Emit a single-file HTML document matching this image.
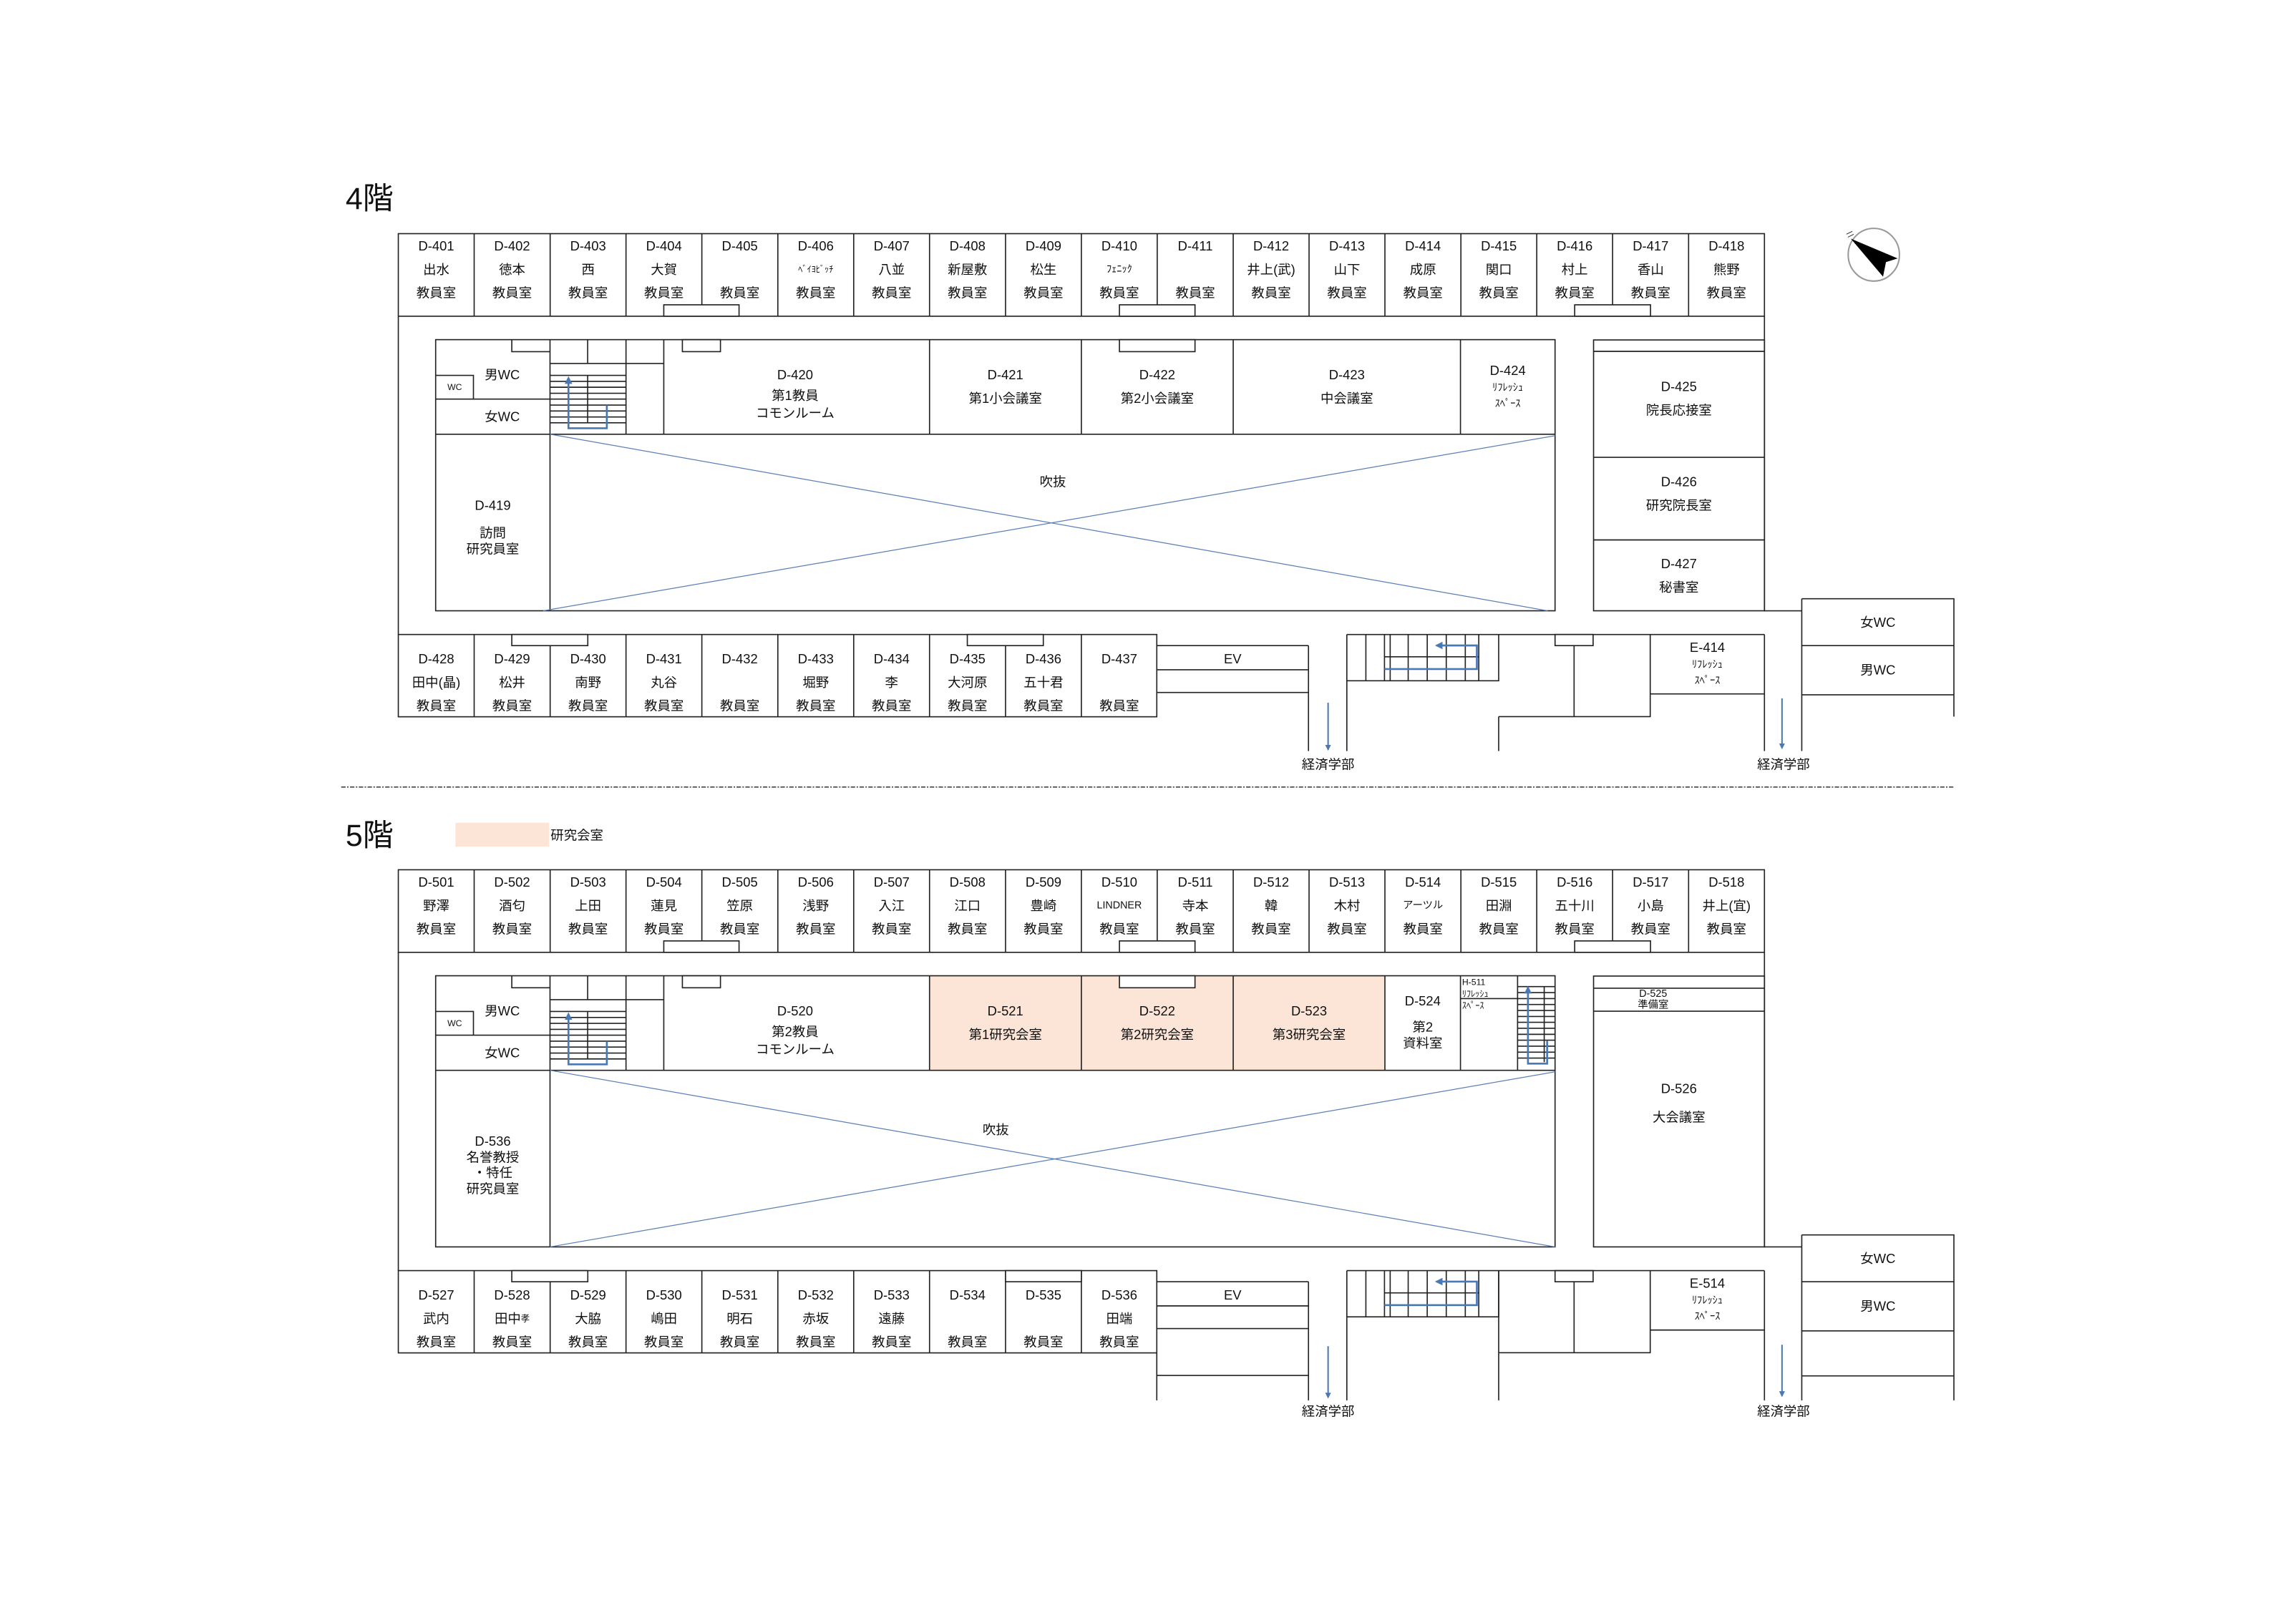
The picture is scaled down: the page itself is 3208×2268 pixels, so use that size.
<!DOCTYPE html>
<html><head><meta charset="utf-8">
<style>
html,body{margin:0;padding:0;background:#fff;}
svg{display:block;}
text{font-family:"Liberation Sans","Noto Sans CJK JP",sans-serif;font-size:9px;fill:#111;text-anchor:middle;dominant-baseline:central;}
.s{font-size:7px;}
.xs{font-size:6px;}
.t{font-size:21px;text-anchor:start;}
</style></head>
<body>
<svg width="3208" height="2268" viewBox="0 0 1568 1108.6" xmlns="http://www.w3.org/2000/svg">
<defs>
<marker id="ah" viewBox="0 0 10 10" refX="8" refY="5" markerWidth="4" markerHeight="4" orient="auto"><path d="M0,0 L10,5 L0,10 z" fill="#4a78b5"/></marker>
</defs>
<rect width="1568" height="1108.6" fill="#fff"/>

<!-- ================= 4F ================= -->
<text class="t" x="236" y="136">4階</text>
<g id="f4" fill="none" stroke="#222" stroke-width="0.8">
<!-- top row -->
<rect x="272" y="159.6" width="933" height="56.4"/>
<path d="M323.8,159.6V216M375.7,159.6V216M427.5,159.6V216M479.3,159.6V216M531.2,159.6V216M583,159.6V216M634.8,159.6V216M686.7,159.6V216M738.5,159.6V216M790.3,159.6V216M842.2,159.6V216M894,159.6V216M945.8,159.6V216M997.7,159.6V216M1049.5,159.6V216M1101.3,159.6V216M1153.2,159.6V216"/>
<rect x="453.3" y="208.2" width="51.4" height="7.8" fill="#fff"/>
<rect x="764.5" y="208.2" width="51.6" height="7.8" fill="#fff"/>
<rect x="1075.4" y="208.2" width="51.8" height="7.8" fill="#fff"/>
<!-- outer walls -->
<path d="M272,216V433.4M1205,216V417.2H1230.5"/>
<!-- inner block -->
<rect x="297.5" y="232" width="764.5" height="185.2"/>
<path d="M297.5,296.6H1062M375.6,232V417.2M349.5,232V240.2H375.6V248.3H453.3M401.3,232V248.3M427.5,232V296.6M453.3,232V296.6M634.8,232V296.6M738.5,232V296.6M842.2,232V296.6M997.4,232V296.6M297.5,272.6H375.6M297.5,256.4H323.3V272.6"/>
<rect x="466" y="232" width="26" height="8.2"/>
<rect x="764.5" y="232" width="51.6" height="8.2"/>
<!-- stairs top-left -->
<path d="M375.6,256.4H427.5M375.6,260.5H427.5M375.6,264.5H427.5M375.6,268.6H427.5M375.6,272.6H427.5M375.6,276.7H427.5M375.6,280.7H427.5M375.6,284.8H427.5M375.6,288.8H427.5M401.3,256.4V288.8"/>
<!-- right block -->
<rect x="1088.3" y="232.2" width="116.7" height="185"/>
<path d="M1088.3,240H1205M1088.3,312.4H1205M1088.3,368.8H1205"/>
<!-- bottom row -->
<rect x="272" y="433.4" width="518" height="56.2"/>
<path d="M323.8,433.4V489.6M375.7,433.4V489.6M427.5,433.4V489.6M479.3,433.4V489.6M531.2,433.4V489.6M583,433.4V489.6M634.8,433.4V489.6M686.7,433.4V489.6M738.5,433.4V489.6"/>
<rect x="349.5" y="433.4" width="51.9" height="7.6" fill="#fff"/>
<rect x="660.6" y="433.4" width="51.9" height="7.6" fill="#fff"/>
<!-- EV etc -->
<path d="M790,441H893.6M790,457.5H893.6M790,473H893.6M893.6,441V513M919.8,433.4V513M919.8,433.4H1205M1205,433.4V513"/>
<!-- stair bottom -->
<path d="M919.8,465H1023.5V433.4M932.8,433.4V465M945.5,433.4V465M949.4,433.4V465M961.7,433.4V465M974.7,433.4V465M987.7,433.4V465M1000.7,433.4V465M1009.9,433.4V465M945.5,448.6H1009.9"/>
<path d="M1023.5,489.5V513M1023.5,489.5H1127V433.4M1075,441V489.5M1127,474H1205"/>
<rect x="1062" y="433.4" width="26" height="7.6"/>
<!-- WC right -->
<path d="M1230.5,409H1334.4V489.5M1230.5,409V513M1230.5,441H1334.4M1230.5,474.6H1334.4"/>
<!-- diagonals -->
<path d="M375.6,296.6L1057,417.2M371,417.2L1062,297.6" stroke="#5a7fb8" stroke-width="0.6"/>
<!-- blue arrows -->
<path d="M414.4,276.7V292.5H388.2V258" stroke="#4a78b5" stroke-width="1.3" marker-end="url(#ah)"/>
<path d="M945.5,457H1008.6V440.9H981" stroke="#4a78b5" stroke-width="1.3" marker-end="url(#ah)"/>
<path d="M907,480V512" stroke="#4a78b5" stroke-width="1" marker-end="url(#ah)"/>
<path d="M1217,477V511" stroke="#4a78b5" stroke-width="1" marker-end="url(#ah)"/>
</g>
<!-- compass -->
<ellipse cx="1279.7" cy="174" rx="17.5" ry="18" fill="#fff" stroke="#999" stroke-width="1"/>
<polygon points="1264,163 1296,176.5 1288,179 1286,189" fill="#000"/>
<path d="M1261,160 l4,-2 m-3,4 l4,-2" stroke="#333" stroke-width="0.5"/>

<!-- 4F texts -->
<g>
<text x="297.9" y="168">D-401</text><text x="297.9" y="184">出水</text><text x="297.9" y="200">教員室</text>
<text x="349.7" y="168">D-402</text><text x="349.7" y="184">徳本</text><text x="349.7" y="200">教員室</text>
<text x="401.6" y="168">D-403</text><text x="401.6" y="184">西</text><text x="401.6" y="200">教員室</text>
<text x="453.4" y="168">D-404</text><text x="453.4" y="184">大賀</text><text x="453.4" y="200">教員室</text>
<text x="505.2" y="168">D-405</text><text x="505.2" y="200">教員室</text>
<text x="557.1" y="168">D-406</text><text class="xs" x="557.1" y="184">ﾍﾞｲﾖﾋﾞｯﾁ</text><text x="557.1" y="200">教員室</text>
<text x="608.9" y="168">D-407</text><text x="608.9" y="184">八並</text><text x="608.9" y="200">教員室</text>
<text x="660.7" y="168">D-408</text><text x="660.7" y="184">新屋敷</text><text x="660.7" y="200">教員室</text>
<text x="712.6" y="168">D-409</text><text x="712.6" y="184">松生</text><text x="712.6" y="200">教員室</text>
<text x="764.4" y="168">D-410</text><text class="s" x="764.4" y="184">ﾌｪﾆｯｸ</text><text x="764.4" y="200">教員室</text>
<text x="816.3" y="168">D-411</text><text x="816.3" y="200">教員室</text>
<text x="868.1" y="168">D-412</text><text x="868.1" y="184">井上(武)</text><text x="868.1" y="200">教員室</text>
<text x="919.9" y="168">D-413</text><text x="919.9" y="184">山下</text><text x="919.9" y="200">教員室</text>
<text x="971.8" y="168">D-414</text><text x="971.8" y="184">成原</text><text x="971.8" y="200">教員室</text>
<text x="1023.6" y="168">D-415</text><text x="1023.6" y="184">関口</text><text x="1023.6" y="200">教員室</text>
<text x="1075.4" y="168">D-416</text><text x="1075.4" y="184">村上</text><text x="1075.4" y="200">教員室</text>
<text x="1127.3" y="168">D-417</text><text x="1127.3" y="184">香山</text><text x="1127.3" y="200">教員室</text>
<text x="1179.1" y="168">D-418</text><text x="1179.1" y="184">熊野</text><text x="1179.1" y="200">教員室</text>

<text x="343" y="256">男WC</text><text class="xs" x="310.5" y="264.5">WC</text><text x="343" y="284.5">女WC</text>
<text x="543" y="256">D-420</text><text x="543" y="270">第1教員</text><text x="543" y="282">コモンルーム</text>
<text x="686.6" y="256">D-421</text><text x="686.6" y="272">第1小会議室</text>
<text x="790.3" y="256">D-422</text><text x="790.3" y="272">第2小会議室</text>
<text x="919.8" y="256">D-423</text><text x="919.8" y="272">中会議室</text>
<text x="1029.7" y="253">D-424</text><text class="s" x="1029.7" y="265">ﾘﾌﾚｯｼｭ</text><text class="s" x="1029.7" y="276">ｽﾍﾟｰｽ</text>
<text x="336.5" y="345">D-419</text><text x="336.5" y="364">訪問</text><text x="336.5" y="375">研究員室</text>
<text x="719" y="329">吹抜</text>
<text x="1146.6" y="264">D-425</text><text x="1146.6" y="280">院長応接室</text>
<text x="1146.6" y="329">D-426</text><text x="1146.6" y="345">研究院長室</text>
<text x="1146.6" y="385">D-427</text><text x="1146.6" y="401">秘書室</text>

<text x="297.9" y="450">D-428</text><text x="297.9" y="466">田中(晶)</text><text x="297.9" y="482">教員室</text>
<text x="349.7" y="450">D-429</text><text x="349.7" y="466">松井</text><text x="349.7" y="482">教員室</text>
<text x="401.6" y="450">D-430</text><text x="401.6" y="466">南野</text><text x="401.6" y="482">教員室</text>
<text x="453.4" y="450">D-431</text><text x="453.4" y="466">丸谷</text><text x="453.4" y="482">教員室</text>
<text x="505.2" y="450">D-432</text><text x="505.2" y="482">教員室</text>
<text x="557.1" y="450">D-433</text><text x="557.1" y="466">堀野</text><text x="557.1" y="482">教員室</text>
<text x="608.9" y="450">D-434</text><text x="608.9" y="466">李</text><text x="608.9" y="482">教員室</text>
<text x="660.7" y="450">D-435</text><text x="660.7" y="466">大河原</text><text x="660.7" y="482">教員室</text>
<text x="712.6" y="450">D-436</text><text x="712.6" y="466">五十君</text><text x="712.6" y="482">教員室</text>
<text x="764.4" y="450">D-437</text><text x="764.4" y="482">教員室</text>
<text x="841.8" y="450">EV</text>
<text x="1166" y="442">E-414</text><text class="s" x="1166" y="454">ﾘﾌﾚｯｼｭ</text><text class="s" x="1166" y="465">ｽﾍﾟｰｽ</text>
<text x="1282.5" y="425">女WC</text><text x="1282.5" y="457.5">男WC</text>
<text x="907" y="522">経済学部</text><text x="1218" y="522">経済学部</text>
</g>

<!-- separator -->
<line x1="233" y1="537.6" x2="1335" y2="537.6" stroke="#444" stroke-width="0.8" stroke-dasharray="3,1,1,1"/>

<!-- ================= 5F ================= -->
<text class="t" x="236" y="571">5階</text>
<rect x="311" y="562" width="64" height="16.3" fill="#fce4d6"/>
<text x="376" y="570.5" style="text-anchor:start">研究会室</text>

<g transform="translate(0,434.5)">
<rect x="634.8" y="232" width="310.9" height="64.6" fill="#fce4d6"/>
<g fill="none" stroke="#222" stroke-width="0.8">
<rect x="272" y="159.6" width="933" height="56.4"/>
<path d="M323.8,159.6V216M375.7,159.6V216M427.5,159.6V216M479.3,159.6V216M531.2,159.6V216M583,159.6V216M634.8,159.6V216M686.7,159.6V216M738.5,159.6V216M790.3,159.6V216M842.2,159.6V216M894,159.6V216M945.8,159.6V216M997.7,159.6V216M1049.5,159.6V216M1101.3,159.6V216M1153.2,159.6V216"/>
<rect x="453.3" y="208.2" width="51.4" height="7.8" fill="#fff"/>
<rect x="764.5" y="208.2" width="51.6" height="7.8" fill="#fff"/>
<rect x="1075.4" y="208.2" width="51.8" height="7.8" fill="#fff"/>
<path d="M272,216V433.4M1205,216V417.2H1230.5"/>
<rect x="297.5" y="232" width="764.5" height="185.2"/>
<path d="M297.5,296.6H1062M375.6,232V417.2M349.5,232V240.2H375.6V248.3H453.3M401.3,232V248.3M427.5,232V296.6M453.3,232V296.6M634.8,232V296.6M738.5,232V296.6M842.2,232V296.6M945.8,232V296.6M997.4,232V296.6M1036.4,232V296.6M997.4,247.6H1036.4M297.5,272.6H375.6M297.5,256.4H323.3V272.6"/>
<rect x="466" y="232" width="26" height="8.2" fill="#fff"/>
<rect x="764.5" y="232" width="51.6" height="8.2" fill="#fff"/>
<path d="M375.6,256.4H427.5M375.6,260.5H427.5M375.6,264.5H427.5M375.6,268.6H427.5M375.6,272.6H427.5M375.6,276.7H427.5M375.6,280.7H427.5M375.6,284.8H427.5M375.6,288.8H427.5M401.3,256.4V288.8"/>
<path d="M1036.4,239.4H1062M1036.4,243.5H1062M1036.4,247.6H1062M1036.4,251.6H1062M1036.4,255.7H1062M1036.4,259.8H1062M1036.4,263.8H1062M1036.4,267.9H1062M1036.4,272H1062M1036.4,276H1062M1036.4,280.1H1062M1036.4,284.2H1062M1036.4,288.2H1062M1054.6,239.4V291"/>
<rect x="1088.3" y="232.2" width="116.7" height="185"/>
<path d="M1088.3,240.5H1205M1088.3,256.2H1205"/>
<rect x="272" y="433.4" width="518" height="56.2"/>
<path d="M323.8,433.4V489.6M375.7,433.4V489.6M427.5,433.4V489.6M479.3,433.4V489.6M531.2,433.4V489.6M583,433.4V489.6M634.8,433.4V489.6M686.7,433.4V489.6M738.5,433.4V489.6"/>
<rect x="349.5" y="433.4" width="51.9" height="7.6" fill="#fff"/>
<rect x="686.7" y="433.4" width="51.8" height="7.6" fill="#fff"/>
<path d="M790,441H893.6M790,457.5H893.6M790,473H893.6M790,505H893.6M790,489.6V522M893.6,441V522M919.8,433.4V522M919.8,433.4H1205M1205,433.4V522"/>
<path d="M919.8,465H1023.5V433.4M932.8,433.4V465M945.5,433.4V465M949.4,433.4V465M961.7,433.4V465M974.7,433.4V465M987.7,433.4V465M1000.7,433.4V465M1009.9,433.4V465M945.5,448.6H1009.9"/>
<path d="M1023.5,433.4V522M1023.5,489.5H1127V433.4M1075,441V489.5M1127,474H1205"/>
<rect x="1062" y="433.4" width="26" height="7.6"/>
<path d="M1230.5,409H1334.4V522M1230.5,409V522M1230.5,441H1334.4M1230.5,474.6H1334.4M1230.5,505.3H1334.4"/>
<path d="M375.6,296.6L1062,417.2M375.6,417.2L1062,297.6" stroke="#5a7fb8" stroke-width="0.6"/>
<path d="M414.4,276.7V292.5H388.2V258" stroke="#4a78b5" stroke-width="1.3" marker-end="url(#ah)"/>
<path d="M1056.6,276.5V292H1043.5V240" stroke="#4a78b5" stroke-width="1.3" marker-end="url(#ah)"/>
<path d="M945.5,457H1008.6V440.9H981" stroke="#4a78b5" stroke-width="1.3" marker-end="url(#ah)"/>
<path d="M907,485V520" stroke="#4a78b5" stroke-width="1" marker-end="url(#ah)"/>
<path d="M1217,484V519" stroke="#4a78b5" stroke-width="1" marker-end="url(#ah)"/>
</g>

<text x="297.9" y="168">D-501</text><text x="297.9" y="184">野澤</text><text x="297.9" y="200">教員室</text>
<text x="349.7" y="168">D-502</text><text x="349.7" y="184">酒匂</text><text x="349.7" y="200">教員室</text>
<text x="401.6" y="168">D-503</text><text x="401.6" y="184">上田</text><text x="401.6" y="200">教員室</text>
<text x="453.4" y="168">D-504</text><text x="453.4" y="184">蓮見</text><text x="453.4" y="200">教員室</text>
<text x="505.2" y="168">D-505</text><text x="505.2" y="184">笠原</text><text x="505.2" y="200">教員室</text>
<text x="557.1" y="168">D-506</text><text x="557.1" y="184">浅野</text><text x="557.1" y="200">教員室</text>
<text x="608.9" y="168">D-507</text><text x="608.9" y="184">入江</text><text x="608.9" y="200">教員室</text>
<text x="660.7" y="168">D-508</text><text x="660.7" y="184">江口</text><text x="660.7" y="200">教員室</text>
<text x="712.6" y="168">D-509</text><text x="712.6" y="184">豊崎</text><text x="712.6" y="200">教員室</text>
<text x="764.4" y="168">D-510</text><text class="s" x="764.4" y="184">LINDNER</text><text x="764.4" y="200">教員室</text>
<text x="816.3" y="168">D-511</text><text x="816.3" y="184">寺本</text><text x="816.3" y="200">教員室</text>
<text x="868.1" y="168">D-512</text><text x="868.1" y="184">韓</text><text x="868.1" y="200">教員室</text>
<text x="919.9" y="168">D-513</text><text x="919.9" y="184">木村</text><text x="919.9" y="200">教員室</text>
<text x="971.8" y="168">D-514</text><text class="s" x="971.8" y="184">アーツル</text><text x="971.8" y="200">教員室</text>
<text x="1023.6" y="168">D-515</text><text x="1023.6" y="184">田淵</text><text x="1023.6" y="200">教員室</text>
<text x="1075.4" y="168">D-516</text><text x="1075.4" y="184">五十川</text><text x="1075.4" y="200">教員室</text>
<text x="1127.3" y="168">D-517</text><text x="1127.3" y="184">小島</text><text x="1127.3" y="200">教員室</text>
<text x="1179.1" y="168">D-518</text><text x="1179.1" y="184">井上(宜)</text><text x="1179.1" y="200">教員室</text>

<text x="343" y="256">男WC</text><text class="xs" x="310.5" y="264.5">WC</text><text x="343" y="284.5">女WC</text>
<text x="543" y="256">D-520</text><text x="543" y="270">第2教員</text><text x="543" y="282">コモンルーム</text>
<text x="686.6" y="256">D-521</text><text x="686.6" y="272">第1研究会室</text>
<text x="790.3" y="256">D-522</text><text x="790.3" y="272">第2研究会室</text>
<text x="894" y="256">D-523</text><text x="894" y="272">第3研究会室</text>
<text x="971.6" y="249">D-524</text><text x="971.6" y="267">第2</text><text x="971.6" y="278">資料室</text>
<text class="xs" x="998.5" y="236.5" style="text-anchor:start">H-511</text><text class="xs" x="998.5" y="244.5" style="text-anchor:start">ﾘﾌﾚｯｼｭ</text><text class="xs" x="998.5" y="252.5" style="text-anchor:start">ｽﾍﾟｰｽ</text>
<text class="s" x="1129" y="244.5">D-525</text><text class="s" x="1129" y="252">準備室</text>
<text x="1146.6" y="309">D-526</text><text x="1146.6" y="328.5">大会議室</text>
<text x="336.5" y="345">D-536</text><text x="336.5" y="356">名誉教授</text><text x="336.5" y="366.5">・特任</text><text x="336.5" y="377.5">研究員室</text>
<text x="680" y="337">吹抜</text>

<text x="297.9" y="450">D-527</text><text x="297.9" y="466">武内</text><text x="297.9" y="482">教員室</text>
<text x="349.7" y="450">D-528</text><text x="349.7" y="466">田中<tspan class="xs">孝</tspan></text><text x="349.7" y="482">教員室</text>
<text x="401.6" y="450">D-529</text><text x="401.6" y="466">大脇</text><text x="401.6" y="482">教員室</text>
<text x="453.4" y="450">D-530</text><text x="453.4" y="466">嶋田</text><text x="453.4" y="482">教員室</text>
<text x="505.2" y="450">D-531</text><text x="505.2" y="466">明石</text><text x="505.2" y="482">教員室</text>
<text x="557.1" y="450">D-532</text><text x="557.1" y="466">赤坂</text><text x="557.1" y="482">教員室</text>
<text x="608.9" y="450">D-533</text><text x="608.9" y="466">遠藤</text><text x="608.9" y="482">教員室</text>
<text x="660.7" y="450">D-534</text><text x="660.7" y="482">教員室</text>
<text x="712.6" y="450">D-535</text><text x="712.6" y="482">教員室</text>
<text x="764.4" y="450">D-536</text><text x="764.4" y="466">田端</text><text x="764.4" y="482">教員室</text>
<text x="841.8" y="450">EV</text>
<text x="1166" y="442">E-514</text><text class="s" x="1166" y="454">ﾘﾌﾚｯｼｭ</text><text class="s" x="1166" y="465">ｽﾍﾟｰｽ</text>
<text x="1282.5" y="425">女WC</text><text x="1282.5" y="457.5">男WC</text>
<text x="907" y="529.5">経済学部</text><text x="1218" y="529.5">経済学部</text>
</g>
</svg>
</body></html>
